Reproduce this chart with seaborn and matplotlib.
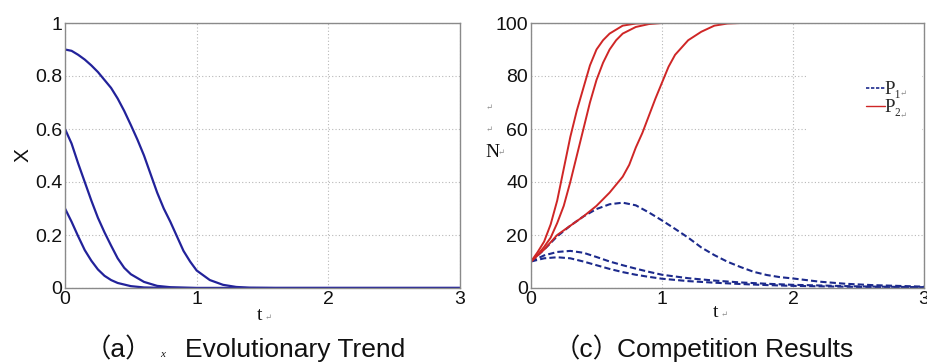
import numpy as np
import pandas as pd
import matplotlib
matplotlib.use("Agg")
import matplotlib.pyplot as plt
import seaborn as sns
from matplotlib.lines import Line2D
from matplotlib.patches import Rectangle

# ---- data ----
# (a) x evolutionary trend: three starting values
t_x1 = [0, 0.05, 0.1, 0.15, 0.2, 0.25, 0.3, 0.35, 0.4, 0.45, 0.5, 0.55, 0.6, 0.65, 0.7, 0.75,
        0.8, 0.85, 0.9, 0.95, 1.0, 1.1, 1.2, 1.3, 1.4, 1.6, 3.0]
x1 = [0.90, 0.895, 0.88, 0.862, 0.84, 0.815, 0.785, 0.755, 0.715, 0.668, 0.615, 0.56, 0.50,
      0.43, 0.36, 0.30, 0.25, 0.195, 0.14, 0.10, 0.066, 0.03, 0.012, 0.004, 0.001, 0, 0]
t_x2 = [0, 0.05, 0.1, 0.15, 0.2, 0.25, 0.3, 0.35, 0.4, 0.45, 0.5, 0.6, 0.7, 0.8, 1.0, 3.0]
x2 = [0.60, 0.545, 0.47, 0.40, 0.33, 0.265, 0.21, 0.16, 0.112, 0.076, 0.052, 0.023, 0.008, 0.003, 0, 0]
t_x3 = [0, 0.05, 0.1, 0.15, 0.2, 0.25, 0.3, 0.35, 0.4, 0.5, 0.6, 0.8, 3.0]
x3 = [0.30, 0.25, 0.195, 0.143, 0.103, 0.07, 0.046, 0.03, 0.019, 0.007, 0.002, 0, 0]

# (c) competition results: P2 (red, solid)
t_p2a = [0, 0.05, 0.1, 0.15, 0.2, 0.25, 0.3, 0.35, 0.4, 0.45, 0.5, 0.55, 0.6, 0.7, 0.8, 0.9, 3.0]
p2a = [10, 13.5, 17.5, 24, 33, 45, 57, 67, 75.5, 84, 90, 93.5, 96, 99, 99.8, 100, 100]
t_p2b = [0, 0.05, 0.1, 0.15, 0.2, 0.25, 0.3, 0.35, 0.4, 0.45, 0.5, 0.55, 0.6, 0.65, 0.7, 0.8, 0.9,
         1.0, 3.0]
p2b = [10, 12.5, 15.5, 19, 24.5, 31, 40, 50, 60, 70, 78.5, 85, 90, 93.5, 96, 98.5, 99.6, 100, 100]
t_p2c = [0, 0.1, 0.2, 0.3, 0.4, 0.5, 0.6, 0.7, 0.75, 0.8, 0.85, 0.9, 0.95, 1.0, 1.05, 1.1, 1.2,
         1.3, 1.4, 1.5, 1.6, 3.0]
p2c = [10, 14.5, 20, 23.5, 27, 31, 36, 42, 46.5, 53, 58.5, 65, 71.5, 77.5, 83.5, 88, 93.5,
       96.7, 99, 99.8, 100, 100]

# (c) competition results: P1 (blue, dashed)
t_p1a = [0, 0.1, 0.2, 0.3, 0.4, 0.5, 0.6, 0.7, 0.8, 0.9, 1.0, 1.1, 1.2, 1.3, 1.4, 1.5, 1.6, 1.7,
         1.8, 1.9, 2.0, 2.2, 2.4, 2.6, 2.8, 3.0]
p1a = [10, 14.5, 19.5, 23.5, 27, 29.8, 31.6, 32.2, 31.2, 28.5, 25.5, 22.3, 19, 15.3, 12.4, 9.9,
       7.9, 6.1, 4.9, 4.1, 3.6, 2.4, 1.6, 1.1, 0.8, 0.5]
t_p1b = [0, 0.1, 0.2, 0.3, 0.4, 0.5, 0.6, 0.7, 0.8, 0.9, 1.0, 1.2, 1.4, 1.6, 1.8, 2.0, 2.5, 3.0]
p1b = [10, 12.3, 13.6, 14, 13.3, 11.7, 10, 8.6, 7.3, 6.1, 5.0, 3.7, 2.8, 2.1, 1.6, 1.2, 0.6, 0.3]
t_p1c = [0, 0.1, 0.2, 0.3, 0.4, 0.5, 0.6, 0.7, 0.8, 0.9, 1.0, 1.2, 1.4, 1.6, 1.8, 2.0, 2.5, 3.0]
p1c = [10, 11.2, 11.6, 11.2, 10, 8.6, 7.2, 6.0, 5.0, 4.2, 3.5, 2.6, 2.0, 1.5, 1.1, 0.8, 0.4, 0.2]

x_ticks = [0, 1, 2, 3]
x_tick_labels = ["0", "1", "2", "3"]
left_yticks = [0, 0.2, 0.4, 0.6, 0.8, 1]
left_ytick_labels = ["0", "0.2", "0.4", "0.6", "0.8", "1"]
right_yticks = [0, 20, 40, 60, 80, 100]
right_ytick_labels = ["0", "20", "40", "60", "80", "100"]

caption_a = ("（a）", "x", "Evolutionary Trend")
caption_c = ("（c）", "Competition Results")
legend_labels = ["P₁", "P₂"]

# ---- style ----
sns.set_style("white")
plt.rcParams["font.family"] = ["Liberation Sans", "Noto Sans CJK SC", "DejaVu Sans"]
SERIF = ["Liberation Serif", "DejaVu Serif", "DejaVu Sans"]
CJK = ["Liberation Sans", "Noto Sans CJK SC", "DejaVu Sans"]

W, H = 927, 362
fig = plt.figure(figsize=(W / 100, H / 100), dpi=100)

def px(x0, y0, x1_, y1_):
    return [x0 / W, 1 - y1_ / H, (x1_ - x0) / W, (y1_ - y0) / H]

axL = fig.add_axes(px(65, 23, 460, 288))
axR = fig.add_axes(px(531, 23, 924, 288))

blue = "#22229a"
dblue = "#1c2a8c"
red = "#cf2626"

def frame(ax, yticks, ylabels, ylim):
    ax.set_xlim(0, 3)
    ax.set_ylim(*ylim)
    ax.set_xticks(x_ticks)
    ax.set_xticklabels(x_tick_labels)
    ax.set_yticks(yticks)
    ax.set_yticklabels(ylabels)
    ax.tick_params(labelsize=14, direction="in", length=3, colors="#666666",
                   labelcolor="#111111", pad=2)
    ax.grid(True, linestyle=(0, (1, 2)), color="#b8b8b8", linewidth=0.8)
    ax.set_axisbelow(True)
    for s in ax.spines.values():
        s.set_color("#8a8a8a")
        s.set_linewidth(1.0)
    ax.set_xlabel("")
    ax.set_ylabel("")

# left panel
for t, v in [(t_x1, x1), (t_x2, x2), (t_x3, x3)]:
    sns.lineplot(x=t, y=v, ax=axL, color=blue, linewidth=1.6, estimator=None, sort=False)
frame(axL, left_yticks, left_ytick_labels, (0, 1))
axL.text(-0.105, 0.5, "X", transform=axL.transAxes, rotation=90, fontsize=15,
         ha="center", va="center", color="#111111")
fig.text(257 / W, 1 - 320 / H, "t", fontsize=14, family=SERIF, color="#111111")
fig.text(265 / W, 1 - 320 / H, "↵", fontsize=6, family=SERIF, color="#888888")

# right panel
for t, v in [(t_p1a, p1a), (t_p1b, p1b), (t_p1c, p1c)]:
    sns.lineplot(x=t, y=v, ax=axR, color=dblue, linewidth=1.5, estimator=None, sort=False,
                 linestyle=(0, (3, 1.5)))
for t, v in [(t_p2a, p2a), (t_p2b, p2b), (t_p2c, p2c)]:
    sns.lineplot(x=t, y=v, ax=axR, color=red, linewidth=1.4, estimator=None, sort=False)
frame(axR, right_yticks, right_ytick_labels, (0, 100))
fig.text(713 / W, 1 - 317 / H, "t", fontsize=14, family=SERIF, color="#111111")
fig.text(721 / W, 1 - 317 / H, "↵", fontsize=6, family=SERIF, color="#888888")
fig.text(485 / W, 1 - 157 / H, "N", fontsize=14, family=SERIF, color="#111111")
fig.text(498 / W, 1 - 155 / H, "↵", fontsize=6, family=SERIF, color="#888888")
fig.text(486 / W, 1 - 110 / H, "↵", fontsize=6, family=SERIF, color="#888888")
fig.text(486 / W, 1 - 132 / H, "↵", fontsize=6, family=SERIF, color="#888888")

# white legend area (covers gridlines as in the reference)
axR.add_patch(Rectangle(((807 - 531) / 393, 1 - (140 - 23) / 265), (922 - 807) / 393,
                        (140 - 62) / 265, transform=axR.transAxes, facecolor="white",
                        edgecolor="none", zorder=1))
handles = [Line2D([], [], color=dblue, linestyle=(0, (2, 1)), linewidth=1.2),
           Line2D([], [], color=red, linewidth=1.0)]
leg = axR.legend(handles, legend_labels, loc="upper left",
                 bbox_to_anchor=((866 - 531) / 393, 1 - (81 - 23) / 265),
                 frameon=False, handlelength=1.0, handletextpad=0.0, borderpad=0.0,
                 labelspacing=0.05, prop={"family": SERIF, "size": 13.5}, borderaxespad=0)
fig.text(900 / W, 1 - 96 / H, "↵", fontsize=6, family=SERIF, color="#888888")
fig.text(900 / W, 1 - 118 / H, "↵", fontsize=6, family=SERIF, color="#888888")

# captions
base = 1 - 357 / H
fig.text(152 / W, base, caption_a[0], fontsize=19, family=CJK, ha="right", va="baseline", color="#111111")
fig.text(160 / W, base, caption_a[1], fontsize=8, family=SERIF, style="italic", va="baseline", color="#111111")
fig.text(185 / W, base, caption_a[2], fontsize=19, family=CJK, ha="left", va="baseline", color="#111111")
fig.text(620 / W, base, caption_c[0], fontsize=19, family=CJK, ha="right", va="baseline", color="#111111")
fig.text(617 / W, base, caption_c[1], fontsize=19, family=CJK, ha="left", va="baseline", color="#111111")

fig.savefig("out.png", dpi=100)
